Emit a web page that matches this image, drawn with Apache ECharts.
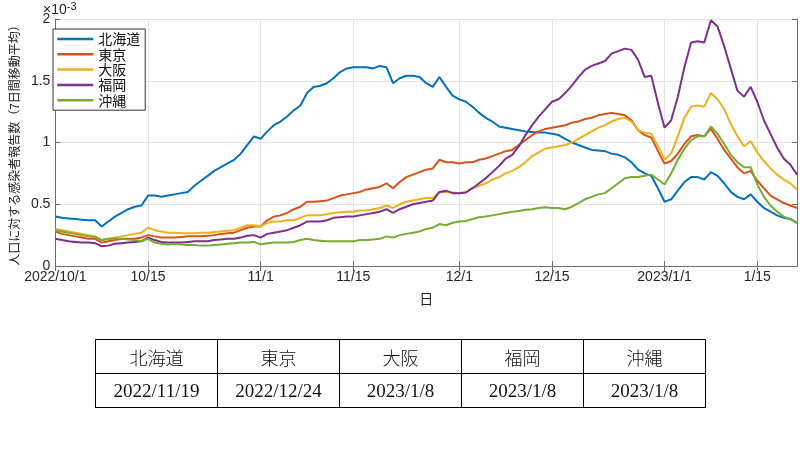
<!DOCTYPE html>
<html>
<head>
<meta charset="utf-8">
<script src="https://cdn.jsdelivr.net/npm/echarts@6/dist/echarts.min.js"></script>
<style>
  html, body { margin: 0; padding: 0; background: #fff; }
  #wrap { position: relative; width: 800px; height: 473px; }
  #chart { position: absolute; left: 0; top: 0; width: 800px; height: 473px; }
  #tbl { position: absolute; left: 95px; top: 339px; border-collapse: collapse;
         font-family: "Liberation Serif", "Noto Sans CJK JP", serif; font-size: 19px; color: #111; }
  #tbl td { border: 1.5px solid #000; width: 121px; height: 33px; text-align: center; padding: 0; }
  #tbl tr:first-child td { font-family: "Noto Sans CJK JP", serif; font-size: 18px; font-weight: 300; }
</style>
</head>
<body>
<div id="wrap">
  <div id="chart"></div>
  <table id="tbl"></table>
</div>
<script>
// values are in units of 1e-3 (axis shows ×10^-3), one per day from 2022/10/1 to 2023/1/21
const hokkaido = [0.40,0.39,0.385,0.38,0.375,0.37,0.37,0.32,0.36,0.40,0.43,0.46,0.48,0.49,0.57,0.57,0.56,0.57,0.58,0.59,
  0.60,0.65,0.69,0.73,0.77,0.80,0.83,0.86,0.91,0.98,1.05,1.03,1.09,1.14,1.17,1.21,1.26,1.30,1.40,1.45,
  1.46,1.48,1.52,1.57,1.60,1.61,1.61,1.61,1.60,1.62,1.61,1.48,1.52,1.54,1.54,1.53,1.48,1.45,1.53,1.45,
  1.38,1.35,1.33,1.29,1.24,1.20,1.17,1.13,1.12,1.11,1.10,1.09,1.085,1.08,1.08,1.07,1.06,1.03,1.00,0.98,
  0.96,0.94,0.935,0.93,0.91,0.90,0.88,0.84,0.78,0.75,0.73,0.63,0.52,0.54,0.61,0.68,0.72,0.72,0.70,0.76,
  0.73,0.67,0.60,0.56,0.54,0.58,0.52,0.47,0.44,0.41,0.39,0.38,0.35];
const tokyo = [0.28,0.26,0.25,0.24,0.23,0.22,0.22,0.19,0.20,0.21,0.22,0.22,0.22,0.23,0.25,0.24,0.23,0.23,0.23,0.235,
  0.24,0.24,0.24,0.245,0.25,0.26,0.265,0.27,0.29,0.31,0.32,0.32,0.37,0.40,0.41,0.43,0.46,0.48,0.52,0.52,
  0.525,0.53,0.55,0.57,0.58,0.59,0.60,0.62,0.63,0.64,0.67,0.63,0.68,0.72,0.74,0.76,0.78,0.79,0.86,0.84,
  0.84,0.83,0.84,0.84,0.86,0.87,0.89,0.91,0.93,0.94,0.98,1.02,1.06,1.09,1.11,1.12,1.13,1.14,1.16,1.17,
  1.19,1.20,1.22,1.23,1.24,1.23,1.22,1.18,1.10,1.06,1.04,0.93,0.83,0.85,0.91,0.99,1.05,1.06,1.05,1.11,
  1.03,0.94,0.87,0.80,0.75,0.77,0.69,0.63,0.57,0.54,0.51,0.49,0.47];
const osaka = [0.30,0.29,0.28,0.27,0.26,0.25,0.24,0.21,0.22,0.23,0.24,0.25,0.26,0.27,0.31,0.29,0.28,0.27,0.27,0.265,
  0.265,0.265,0.27,0.27,0.275,0.28,0.285,0.29,0.31,0.33,0.33,0.32,0.35,0.36,0.36,0.37,0.37,0.39,0.41,0.41,
  0.41,0.42,0.43,0.435,0.44,0.44,0.45,0.45,0.46,0.47,0.49,0.47,0.50,0.52,0.53,0.54,0.55,0.55,0.60,0.60,
  0.595,0.59,0.60,0.63,0.65,0.67,0.70,0.72,0.75,0.77,0.80,0.84,0.89,0.92,0.95,0.96,0.97,0.98,1.00,1.03,
  1.06,1.09,1.12,1.14,1.17,1.19,1.20,1.17,1.10,1.08,1.07,0.97,0.86,0.91,1.05,1.20,1.29,1.30,1.29,1.40,
  1.35,1.27,1.15,1.05,0.97,1.01,0.92,0.85,0.79,0.74,0.70,0.67,0.62];
const fukuoka = [0.22,0.21,0.20,0.195,0.19,0.19,0.185,0.16,0.165,0.18,0.185,0.19,0.195,0.20,0.23,0.21,0.195,0.19,0.19,0.19,
  0.195,0.20,0.20,0.20,0.21,0.215,0.22,0.22,0.23,0.245,0.25,0.23,0.26,0.27,0.28,0.29,0.31,0.33,0.36,0.36,
  0.36,0.37,0.39,0.395,0.40,0.40,0.41,0.42,0.43,0.44,0.46,0.43,0.46,0.48,0.50,0.51,0.52,0.53,0.60,0.61,
  0.59,0.59,0.595,0.63,0.67,0.71,0.76,0.81,0.87,0.90,0.97,1.06,1.14,1.21,1.27,1.33,1.35,1.40,1.46,1.53,
  1.59,1.62,1.64,1.66,1.72,1.74,1.76,1.75,1.67,1.53,1.54,1.32,1.12,1.18,1.37,1.61,1.81,1.82,1.81,1.99,
  1.94,1.78,1.60,1.42,1.37,1.45,1.33,1.18,1.07,0.96,0.87,0.82,0.74];
const okinawa = [0.29,0.28,0.27,0.26,0.25,0.24,0.235,0.21,0.22,0.22,0.22,0.215,0.21,0.20,0.22,0.19,0.18,0.175,0.18,0.175,
  0.17,0.17,0.165,0.165,0.17,0.175,0.18,0.185,0.19,0.19,0.195,0.175,0.185,0.19,0.19,0.19,0.195,0.21,0.22,0.21,
  0.205,0.20,0.20,0.20,0.20,0.20,0.21,0.21,0.215,0.22,0.24,0.23,0.25,0.26,0.27,0.28,0.30,0.31,0.34,0.33,
  0.35,0.36,0.365,0.38,0.395,0.40,0.41,0.42,0.43,0.44,0.445,0.455,0.46,0.47,0.475,0.47,0.47,0.46,0.48,0.51,
  0.54,0.56,0.58,0.59,0.63,0.67,0.71,0.72,0.72,0.73,0.74,0.70,0.66,0.75,0.86,0.95,1.02,1.05,1.05,1.13,
  1.07,0.99,0.90,0.84,0.80,0.80,0.66,0.56,0.49,0.44,0.40,0.38,0.35];

const seriesNames = ['北海道', '東京', '大阪', '福岡', '沖縄'];
const seriesData = [hokkaido, tokyo, osaka, fukuoka, okinawa];
const colors = ['#0072BD', '#D95319', '#EDB120', '#7E2F8E', '#77AC30'];

const tickDates = ['2022/10/1','2022/10/15','2022/11/1','2022/11/15','2022/12/1','2022/12/15','2023/1/1','2023/1/15'];
const tickLabels = ['2022/10/1','10/15','11/1','11/15','12/1','12/15','2023/1/1','1/15'];

const peakNames = ['北海道', '東京', '大阪', '福岡', '沖縄'];
const peakDates = ['2022/11/19', '2022/12/24', '2023/1/8', '2023/1/8', '2023/1/8'];

// category dates
const dates = [];
{
  const start = new Date(2022, 9, 1);
  for (let i = 0; i < hokkaido.length; i++) {
    const d = new Date(start.getFullYear(), start.getMonth(), start.getDate() + i);
    dates.push(d.getFullYear() + '/' + (d.getMonth() + 1) + '/' + d.getDate());
  }
}
const isTick = (idx, val) => tickDates.indexOf(val) >= 0;

// table
{
  const tbl = document.getElementById('tbl');
  const r1 = document.createElement('tr');
  const r2 = document.createElement('tr');
  peakNames.forEach((n, i) => {
    const a = document.createElement('td'); a.textContent = n; r1.appendChild(a);
    const b = document.createElement('td'); b.textContent = peakDates[i]; r2.appendChild(b);
  });
  tbl.appendChild(r1); tbl.appendChild(r2);
}

const chart = echarts.init(document.getElementById('chart'), null, { renderer: 'canvas' });
const axisColor = '#6e6e6e';
const gridColor = '#e4e4e4';
const labelFont = '"Liberation Sans Narrow", "Liberation Sans", Arial, sans-serif';

chart.setOption({
  animation: false,
  backgroundColor: '#fff',
  color: colors,
  grid: { left: 42, right: 3, top: 19, bottom: 207, containLabel: false },
  graphic: [{
    type: 'text', left: 43, top: 1,
    style: {
      text: '×10{sup|-3}',
      font: '14px "Liberation Sans", Arial, sans-serif',
      fill: '#262626',
      rich: { sup: { fontSize: 11, verticalAlign: 'top', padding: [0, 0, 8, 0], fill: '#262626' } }
    }
  }],
  legend: {
    orient: 'vertical', left: 53, top: 29,
    padding: [3, 5, 3, 3], itemGap: 1.3,
    itemWidth: 36, itemHeight: 14,
    backgroundColor: '#fff', borderColor: '#333', borderWidth: 1,
    itemStyle: { opacity: 0 },
    lineStyle: { width: 2.5 },
    textStyle: { fontFamily: '"Noto Sans CJK JP", sans-serif', fontSize: 14, color: '#111' },
    data: seriesNames
  },
  xAxis: [{
    type: 'category', data: dates, boundaryGap: false, position: 'bottom',
    name: '日', nameLocation: 'middle', nameGap: 26,
    nameTextStyle: { fontFamily: '"Noto Sans CJK JP", sans-serif', fontSize: 14, color: '#222' },
    axisLine: { show: true, lineStyle: { color: axisColor, width: 1 } },
    axisTick: { show: true, inside: true, length: 5, interval: isTick, lineStyle: { color: axisColor } },
    axisLabel: {
      interval: isTick, margin: 4, color: '#262626', fontSize: 14, fontFamily: labelFont,
      formatter: (v) => tickLabels[tickDates.indexOf(v)] || ''
    },
    splitLine: { show: true, interval: isTick, lineStyle: { color: gridColor, width: 1 } }
  }, {
    type: 'category', data: dates, boundaryGap: false, position: 'top',
    axisLine: { show: true, lineStyle: { color: axisColor, width: 1 } },
    axisTick: { show: true, inside: true, length: 5, interval: isTick, lineStyle: { color: axisColor } },
    axisLabel: { show: false }, splitLine: { show: false }
  }],
  yAxis: [{
    type: 'value', min: 0, max: 2, interval: 0.5, position: 'left',
    name: '人口に対する感染者報告数（7日間移動平均）', nameLocation: 'middle', nameRotate: 90, nameGap: 32,
    nameTextStyle: { fontFamily: '"Noto Sans CJK JP", sans-serif', fontSize: 12, color: '#222' },
    axisLine: { show: true, lineStyle: { color: axisColor, width: 1 } },
    axisTick: { show: true, inside: true, length: 5, lineStyle: { color: axisColor } },
    axisLabel: { margin: 5, color: '#262626', fontSize: 14, fontFamily: '"Liberation Sans", Arial, sans-serif' },
    splitLine: { show: true, lineStyle: { color: gridColor, width: 1 } }
  }, {
    type: 'value', min: 0, max: 2, interval: 0.5, position: 'right',
    axisLine: { show: true, lineStyle: { color: axisColor, width: 1 } },
    axisTick: { show: true, inside: true, length: 5, lineStyle: { color: axisColor } },
    axisLabel: { show: false }, splitLine: { show: false }
  }],
  series: seriesNames.map((n, i) => ({
    name: n, type: 'line', data: seriesData[i], xAxisIndex: 0, yAxisIndex: 0,
    symbol: 'none', lineStyle: { width: 2, color: colors[i] }, itemStyle: { color: colors[i] },
    z: 2 + i
  }))
});
</script>
</body>
</html>
